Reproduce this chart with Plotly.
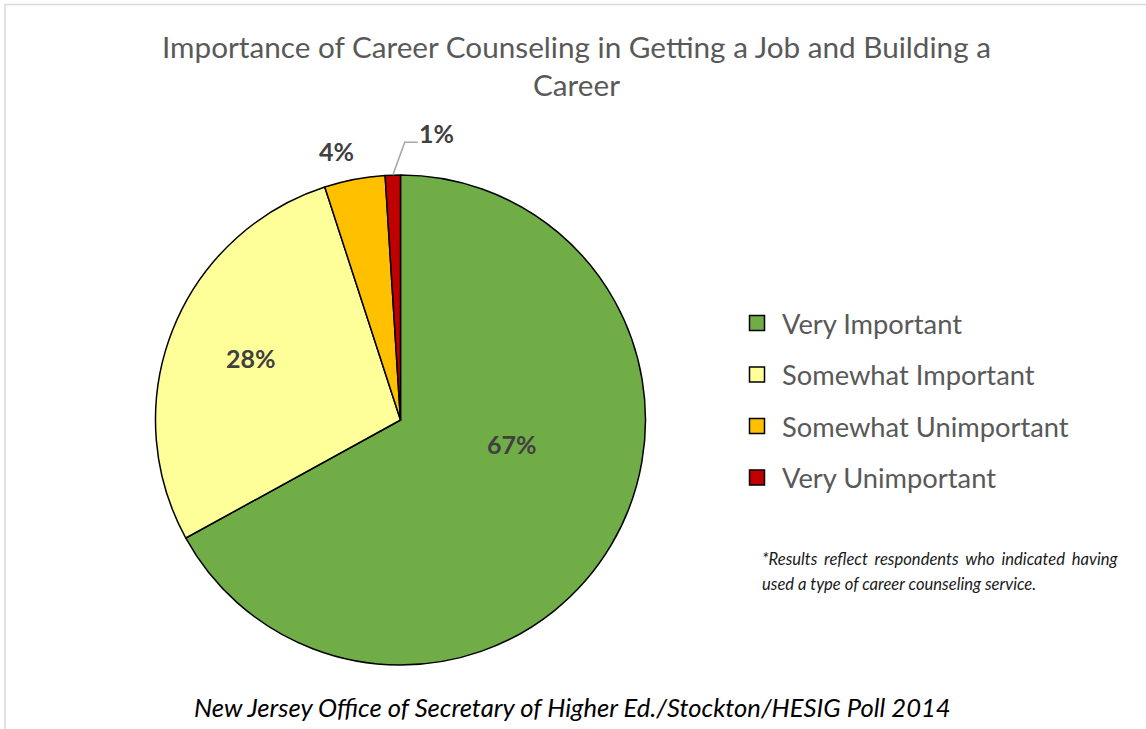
import math
import plotly.graph_objects as go

# Survey responses (percent of respondents)
categories = ["Very Important", "Somewhat Important", "Somewhat Unimportant", "Very Unimportant"]
values = [67, 28, 4, 1]
colors = ["#70AD47", "#FFFF99", "#FFC000", "#C00000"]

title_lines = ["Importance of Career Counseling in Getting a Job and Building a", "Career"]
footnote_lines = [
    "*Results reflect respondents who indicated having",
    "used a type of career counseling service.",
]
source_text = "New Jersey Office of Secretary of Higher Ed./Stockton/HESIG Poll 2014"

W, H = 1146, 729
FONT = "Lato, 'Open Sans', sans-serif"
GREY_TEXT = "#595959"
LABEL_TEXT = "#404040"

# Pie geometry in pixels
CX, CY, R = 400.5, 420.0, 245.0


def px(x):
    return x / W


def py(y):
    return 1 - y / H


fig = go.Figure(
    go.Pie(
        labels=categories,
        values=values,
        marker=dict(colors=colors, line=dict(color="#000000", width=1.5)),
        sort=False,
        direction="clockwise",
        rotation=0,
        textinfo="none",
        hoverinfo="label+percent",
        showlegend=False,
        domain=dict(x=[px(CX - R), px(CX + R)], y=[py(CY + R), py(CY - R)]),
    )
)

# Percentage labels placed relative to each slice's mid-angle
total = sum(values)
label_radius = [0.467, 0.66, 1.13, 1.18]   # fraction of pie radius
label_shift = [-18.6, 0.9, -2.5, 9.0]      # degrees added to mid-angle
annotations = []
shapes = []
cum = 0.0
for i, v in enumerate(values):
    mid = (cum + v / 2) / total * 360.0
    cum += v
    ang = math.radians(mid + label_shift[i])
    lx = CX + label_radius[i] * R * math.sin(ang)
    ly = CY - label_radius[i] * R * math.cos(ang)
    annotations.append(dict(
        x=px(lx), y=py(ly), xref="paper", yref="paper",
        text=f"<b>{v}%</b>", showarrow=False,
        font=dict(family=FONT, size=25, color=LABEL_TEXT),
        xanchor="center", yanchor="middle",
    ))
    if i == len(values) - 1:
        # leader line from the thin slice to its label
        a0 = math.radians(mid)
        ex = CX + R * math.sin(a0)
        ey = CY - R * math.cos(a0)
        kx, ky = lx - 32, ly + 9
        shapes.append(dict(
            type="path", xref="paper", yref="paper",
            path=f"M {px(ex)} {py(ey)} L {px(kx)} {py(ky)} L {px(kx + 13)} {py(ky)}",
            line=dict(color="#A6A6A6", width=1.5),
        ))

# Legend drawn as swatches and labels
LEG_X, LEG_Y0, LEG_DY, SW = 757, 323, 51.5, 15
for i, (name, col) in enumerate(zip(categories, colors)):
    yc = LEG_Y0 + i * LEG_DY
    shapes.append(dict(
        type="rect", xref="paper", yref="paper",
        x0=px(LEG_X - SW / 2), x1=px(LEG_X + SW / 2),
        y0=py(yc + SW / 2), y1=py(yc - SW / 2),
        fillcolor=col, line=dict(color="#000000", width=1.5),
    ))
    annotations.append(dict(
        x=px(LEG_X + 23), y=py(yc), xref="paper", yref="paper",
        text=name, showarrow=False, xanchor="left", yanchor="middle",
        font=dict(family=FONT, size=27.3, color=GREY_TEXT),
    ))

# Footnote (first line spread out to the full block width)
for j, line in enumerate(footnote_lines):
    shown = line.replace(" ", " \u2009\u200a") if j == 0 else line
    annotations.append(dict(
        x=px(760), y=py(559 + j * 25), xref="paper", yref="paper",
        text=f"<i>{shown}</i>", showarrow=False, xanchor="left", yanchor="middle",
        font=dict(family=FONT, size=16.6, color="#1a1a1a"),
    ))

# Source line
annotations.append(dict(
    x=px(572), y=py(707), xref="paper", yref="paper",
    text=f"<i>{source_text}</i>", showarrow=False, xanchor="center", yanchor="middle",
    font=dict(family=FONT, size=25.6, color="#000000"),
))

# Title, one annotation per line
for j, line in enumerate(title_lines):
    annotations.append(dict(
        x=px(576.5), y=py(47 + j * 38), xref="paper", yref="paper",
        text=line, showarrow=False, xanchor="center", yanchor="middle",
        font=dict(family=FONT, size=29.7, color=GREY_TEXT),
    ))

# Chart frame (light grey border)
shapes.append(dict(
    type="path", xref="paper", yref="paper",
    path=f"M {px(5)} {py(H + 5)} L {px(5)} {py(4.5)} L {px(W + 5)} {py(4.5)}",
    line=dict(color="#D9D9D9", width=1.5),
))

fig.update_layout(
    width=W, height=H,
    margin=dict(l=0, r=0, t=0, b=0),
    paper_bgcolor="#FFFFFF",
    plot_bgcolor="#FFFFFF",
    annotations=annotations,
    shapes=shapes,
)

fig.write_html("out.html")
